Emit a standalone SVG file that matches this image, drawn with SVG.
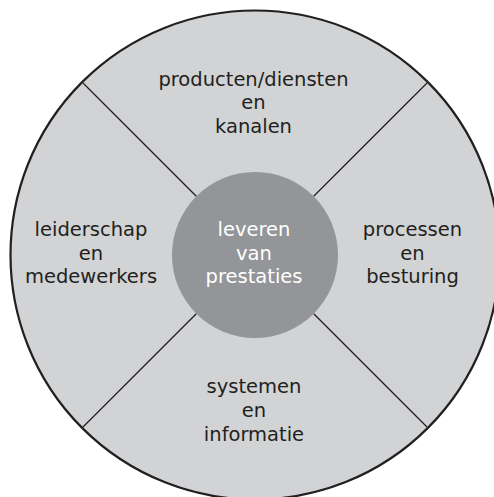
<svg xmlns="http://www.w3.org/2000/svg" width="494" height="497" viewBox="0 0 494 497">
  <style>
    .lbl { font-family: "DejaVu Sans", "Open Sans", sans-serif; font-size: 19.5px; text-anchor: middle; fill: #231f20; }
    .core { fill: #ffffff; }
    .div { stroke: #231f20; stroke-width: 1.3; fill: none; }
  </style>
  <rect width="494" height="497" fill="#ffffff"/>
  <g id="outer">
    <circle cx="255" cy="255" r="244.5" fill="#d1d3d4" stroke="#231f20" stroke-width="2.2"/>
  </g>
  <g id="connectors">
    <line class="div" x1="196.3" y1="196.3" x2="83" y2="83"/>
    <line class="div" x1="313.7" y1="196.3" x2="427" y2="83"/>
    <line class="div" x1="196.3" y1="313.7" x2="83" y2="427"/>
    <line class="div" x1="313.7" y1="313.7" x2="427" y2="427"/>
  </g>
  <g id="center">
    <circle cx="255" cy="255" r="83" fill="#939598"/>
    <text class="lbl core" x="254" y="236">leveren</text>
    <text class="lbl core" x="254" y="259.5">van</text>
    <text class="lbl core" x="254" y="283">prestaties</text>
  </g>
  <g id="top">
    <text class="lbl" x="253.5" y="86">producten/diensten</text>
    <text class="lbl" x="253.5" y="109.3">en</text>
    <text class="lbl" x="253.5" y="132.7">kanalen</text>
  </g>
  <g id="left">
    <text class="lbl" x="91" y="236">leiderschap</text>
    <text class="lbl" x="91" y="259.5">en</text>
    <text class="lbl" x="91" y="283">medewerkers</text>
  </g>
  <g id="right">
    <text class="lbl" x="412.5" y="236">processen</text>
    <text class="lbl" x="412.5" y="259.5">en</text>
    <text class="lbl" x="412.5" y="283">besturing</text>
  </g>
  <g id="bottom">
    <text class="lbl" x="254" y="393.3">systemen</text>
    <text class="lbl" x="254" y="416.7">en</text>
    <text class="lbl" x="254" y="440.7">informatie</text>
  </g>
</svg>
